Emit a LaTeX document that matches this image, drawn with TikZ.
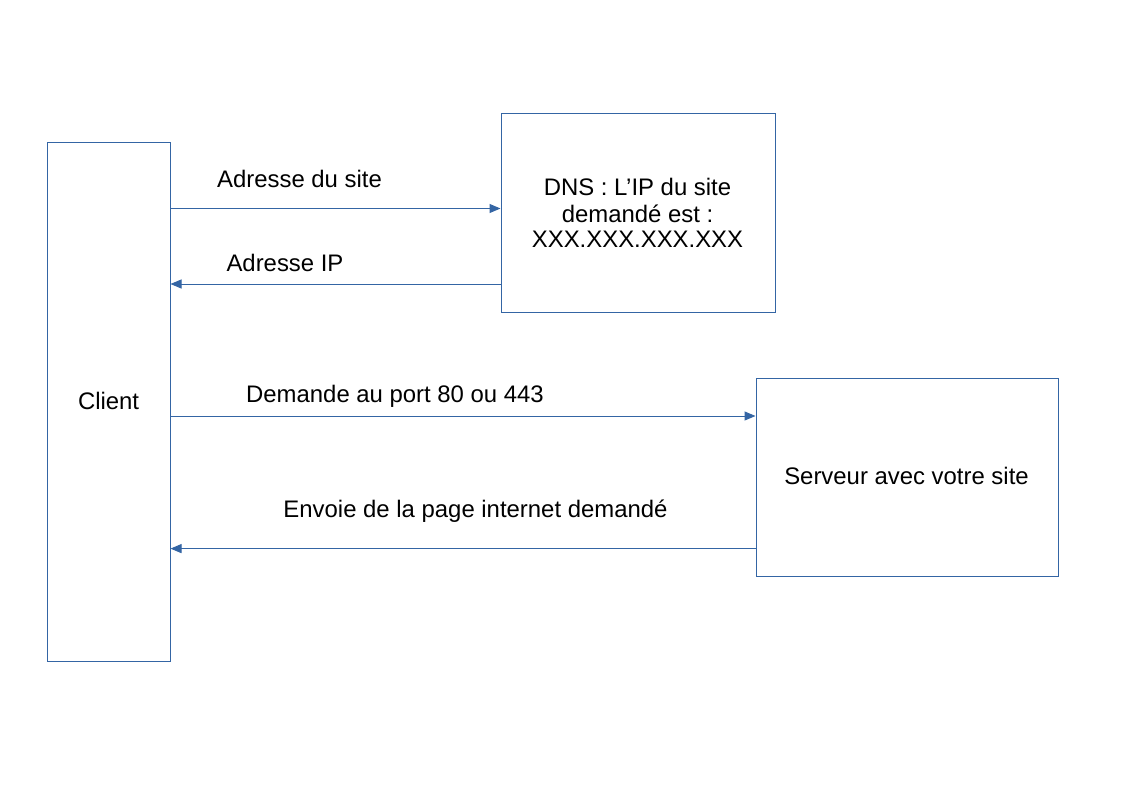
\documentclass[tikz,border=0pt]{standalone}
\usepackage{fontspec}
\setmainfont{Liberation Sans}
\usetikzlibrary{arrows.meta}
\definecolor{lineblue}{HTML}{3465A4}
\begin{document}
\begin{tikzpicture}[x=1pt,y=-1pt,
  box/.style={draw=lineblue, line width=1pt, inner sep=0pt, font=\fontsize{23.9}{26.9}\selectfont, align=center},
  arr/.style={draw=lineblue, line width=1pt, -{Triangle[length=11pt,width=9pt]}},
  lbl/.style={anchor=base, inner sep=0pt, font=\fontsize{23.9}{26.9}\selectfont}]
\useasboundingbox (0,0) rectangle (1123,794);
\fill[white] (0,0) rectangle (1123,794);
\node[box, minimum width=123pt, minimum height=519pt] (client) at (108.5,402) {};
\node[lbl] (clienttxt) at (108.6,409.8) {Client};
\node[box, minimum width=274pt, minimum height=199pt] (dns) at (638,213) {};
\node[lbl] (dns1) at (637.5,195.5) {DNS : L’IP du site};
\node[lbl] (dns2) at (637.5,222.2) {demandé est :};
\node[lbl] (dns3) at (637.5,247.8) {XXX.XXX.XXX.XXX};
\node[box, minimum width=302pt, minimum height=198pt] (srv) at (907,477.5) {};
\node[lbl] (srvtxt) at (906.5,484.8) {Serveur avec votre site};
\coordinate (ya) at (0,208.5);
\coordinate (yb) at (0,284);
\coordinate (yc) at (0,416);
\coordinate (yd) at (0,548.6);
\draw[arr] (client.east |- ya) -- (dns.west |- ya);
\draw[arr] (dns.west |- yb) -- (client.east |- yb);
\draw[arr] (client.east |- yc) -- (srv.west |- yc);
\draw[arr] (srv.west |- yd) -- (client.east |- yd);
\node[lbl] (l1) at (299.5,187.5) {Adresse du site};
\node[lbl] (l2) at (285,271.5) {Adresse IP};
\node[lbl] (l3) at (395,402.2) {Demande au port 80 ou 443};
\node[lbl] (l4) at (475.5,517.2) {Envoie de la page internet demandé};
\end{tikzpicture}
\end{document}
